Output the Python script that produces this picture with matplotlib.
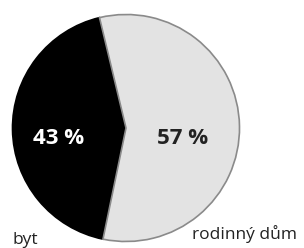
import matplotlib
matplotlib.use('Agg')
import matplotlib.pyplot as plt

labels = ['byt', 'rodinný dům']
shares = [43, 57]
pct_text = ['43 %', '57 %']

fig = plt.figure(figsize=(3.04, 2.48), dpi=100)
ax = fig.add_axes([0, 0, 1, 1])

wedges, _ = ax.pie(shares, colors=['#000000', '#e3e3e3'], startangle=103.5,
                   counterclock=True, center=(126, 120), radius=113.5, frame=True)
wedges[0].set_edgecolor('#000000')
wedges[1].set_edgecolor('#8a8a8a')
for w in wedges:
    w.set_linewidth(1.2)
ax.set_xlim(0, 304)
ax.set_ylim(0, 248)
ax.axis('off')

ax.text(59, 110, pct_text[0], color='white', fontsize=16, fontweight='bold',
        family='Open Sans', ha='center', va='center')
ax.text(183, 110, pct_text[1], color='#222222', fontsize=16, fontweight='bold',
        family='Open Sans', ha='center', va='center')

ax.text(12, 8, labels[0], fontsize=12.5, family='Open Sans', color='#222222',
        ha='left', va='center')
ax.text(192, 14, labels[1], fontsize=12.5, family='Open Sans', color='#222222',
        ha='left', va='center')

fig.savefig('out.png', dpi=100)
